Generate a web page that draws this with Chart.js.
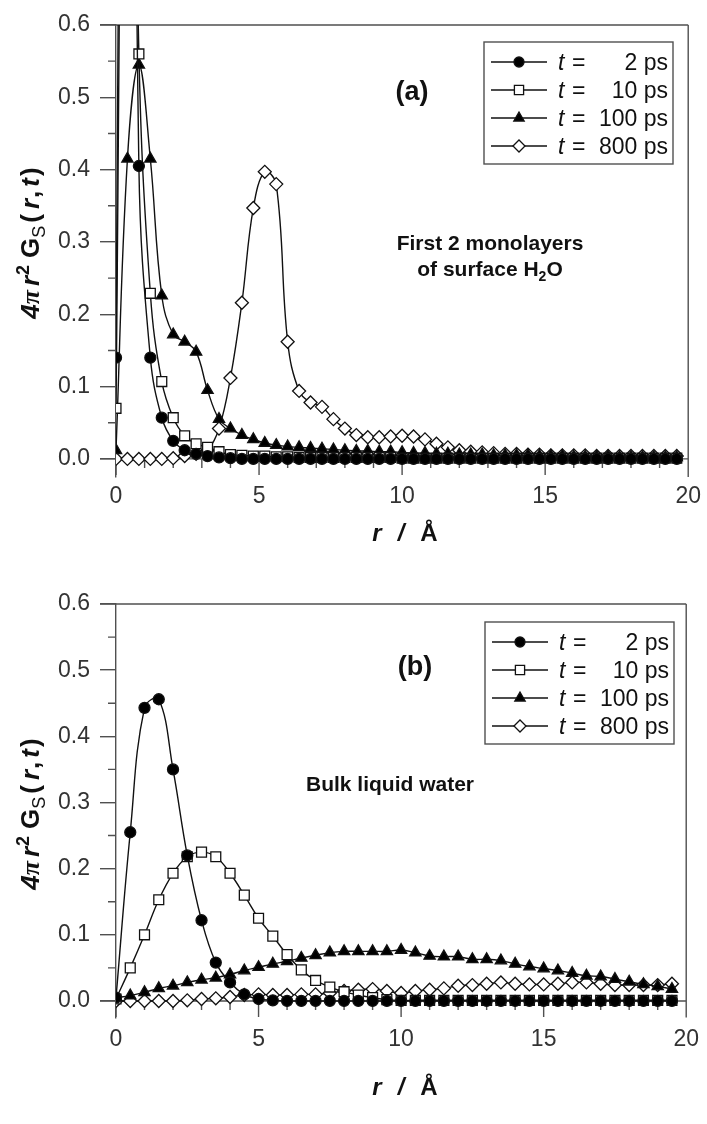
<!DOCTYPE html>
<html><head><meta charset="utf-8">
<script src="https://cdn.jsdelivr.net/npm/chart.js"></script>
<style>
html,body{margin:0;padding:0;background:#fff;}
#wrap{position:relative;width:707px;height:1124px;background:#fff;}
canvas{position:absolute;left:0;}
</style></head><body>
<div id="wrap">
<canvas id="ca" width="707" height="562" style="top:0"></canvas>
<canvas id="cb" width="707" height="562" style="top:562px"></canvas>
</div>
<script>
// ---------- Panel (a): first 2 monolayers of surface water ----------
const rA = [0,0.4,0.8,1.2,1.6,2.0,2.4,2.8,3.2,3.6,4.0,4.4,4.8,5.2,5.6,6.0,6.4,6.8,7.2,7.6,
            8.0,8.4,8.8,9.2,9.6,10.0,10.4,10.8,11.2,11.6,12.0,12.4,12.8,13.2,13.6,14.0,14.4,14.8,15.2,15.6,
            16.0,16.4,16.8,17.2,17.6,18.0,18.4,18.8,19.2,19.6];
const a2ps = [0.14,2.2,0.405,0.14,0.057,0.025,0.012,0.007,0.004,0.002,0.001,0,0,0,0,0,0,0,0,0,
              0,0,0,0,0,0,0,0,0,0,0,0,0,0,0,0,0,0,0,0,0,0,0,0,0,0,0,0,0,0];
const a10ps = [0.07,1.6,0.56,0.229,0.107,0.057,0.032,0.021,0.016,0.010,0.006,0.005,0.004,0.004,0.003,0.003,0.002,0.002,0.002,0.002,
               0.002,0.002,0.002,0.002,0.002,0.001,0.001,0.001,0.001,0.001,0.001,0.001,0.001,0.001,0.001,0.001,0.001,0.001,0.001,0.001,
               0.001,0.001,0.001,0.001,0.001,0.001,0.001,0.001,0.001,0.001];
const a100ps = [0.012,0.415,0.545,0.415,0.226,0.172,0.162,0.148,0.095,0.055,0.042,0.033,0.027,0.022,0.019,0.017,0.016,0.015,0.014,0.013,
                0.012,0.011,0.011,0.010,0.010,0.009,0.008,0.008,0.007,0.007,0.006,0.006,0.006,0.005,0.005,0.005,0.005,0.004,0.004,0.004,
                0.003,0.003,0.003,0.003,0.002,0.002,0.002,0.002,0.002,0.002];
const a800ps = [0,0,0,0,0,0.001,0.004,0.007,0.012,0.042,0.112,0.216,0.347,0.397,0.38,0.162,0.094,0.078,0.072,0.055,
                0.042,0.033,0.030,0.030,0.031,0.032,0.031,0.027,0.021,0.016,0.012,0.010,0.009,0.008,0.007,0.007,0.006,0.006,0.005,0.005,
                0.005,0.005,0.004,0.004,0.004,0.004,0.004,0.004,0.004,0.004];

// ---------- Panel (b): bulk liquid water ----------
const rB = [0,0.5,1.0,1.5,2.0,2.5,3.0,3.5,4.0,4.5,5.0,5.5,6.0,6.5,7.0,7.5,8.0,8.5,9.0,9.5,
            10.0,10.5,11.0,11.5,12.0,12.5,13.0,13.5,14.0,14.5,15.0,15.5,16.0,16.5,17.0,17.5,18.0,18.5,19.0,19.5];
const b2ps = [0.005,0.255,0.443,0.456,0.35,0.22,0.122,0.058,0.028,0.01,0.003,0.001,0,0,0,0,0,0,0,0,
              0,0,0,0,0,0,0,0,0,0,0,0,0,0,0,0,0,0,0,0];
const b10ps = [0.003,0.05,0.1,0.153,0.193,0.218,0.225,0.218,0.193,0.16,0.125,0.098,0.07,0.047,0.031,0.021,0.014,0.009,0.005,0.002,
               0.001,0.001,0.001,0.001,0.001,0.001,0.001,0.001,0.001,0.001,0.001,0.001,0.001,0.001,0.001,0.001,0.001,0.001,0.001,0.001];
const b100ps = [0.005,0.008,0.013,0.019,0.023,0.028,0.032,0.035,0.040,0.046,0.051,0.056,0.060,0.065,0.069,0.073,0.075,0.075,0.075,0.075,
                0.077,0.073,0.068,0.067,0.067,0.063,0.063,0.061,0.056,0.052,0.049,0.046,0.042,0.038,0.037,0.033,0.029,0.025,0.022,0.018];
const b800ps = [0,0,0,0,0,0.001,0.003,0.004,0.006,0.009,0.010,0.009,0.009,0.010,0.010,0.012,0.015,0.017,0.018,0.015,
                0.012,0.015,0.017,0.019,0.023,0.024,0.026,0.028,0.026,0.025,0.025,0.026,0.028,0.028,0.026,0.024,0.024,0.024,0.024,0.026];

const seriesTimes = ['2 ps','10 ps','100 ps','800 ps'];
const xTickValues = [0,5,10,15,20];
const xMinorValues = [1,2,3,4,6,7,8,9,11,12,13,14,16,17,18,19];
const yTickValues = [0,0.1,0.2,0.3,0.4,0.5,0.6];
const yMinorValues = [0.05,0.15,0.25,0.35,0.45,0.55];

// ---------- styling ----------
const FONT = '"Liberation Sans", Arial, Helvetica, sans-serif';
const SERIF = '"Liberation Serif", "Times New Roman", serif';
const AX = '#505050';
const INK = '#111';
const markerStyles = [
  {pointStyle:'circle',   radius:5.5, bg:'#000'},
  {pointStyle:'rect',     radius:7,   bg:'#fff'},
  {pointStyle:'triangle', radius:6.5, bg:'#000'},
  {pointStyle:'rectRot',  radius:6.5, bg:'#fff'}
];

function makeDatasets(xs, lists) {
  return lists.map((vals, i) => ({
    label: seriesTimes[i],
    data: xs.map((r, k) => ({x: r, y: vals[k]})),
    borderColor: INK,
    borderWidth: 1.4,
    backgroundColor: markerStyles[i].bg,
    pointStyle: markerStyles[i].pointStyle,
    pointRadius: markerStyles[i].radius,
    pointBorderColor: INK,
    pointBorderWidth: 1.3,
    pointBackgroundColor: markerStyles[i].bg,
    tension: 0.4,
    fill: false
  }));
}

function drawRuns(ctx, runs, x, y, align) {
  let total = 0;
  runs.forEach(r => { ctx.font = r.font; r.w = ctx.measureText(r.t).width + (r.gap || 0); total += r.w; });
  let cx = align === 'center' ? x - total / 2 : (align === 'right' ? x - total : x);
  runs.forEach(r => { ctx.font = r.font; ctx.fillText(r.t, cx, y + (r.dy || 0)); cx += r.w; });
}

const panelPlugin = {
  id: 'panel',
  beforeDatasetsDraw(chart) {
    const {ctx, chartArea: a, scales: {x, y}} = chart;
    const y0 = y.getPixelForValue(0);
    ctx.save();
    ctx.strokeStyle = AX; ctx.lineWidth = 1.4;
    ctx.beginPath();
    ctx.moveTo(a.left - 16, a.top); ctx.lineTo(a.right, a.top);
    ctx.moveTo(a.right, a.top); ctx.lineTo(a.right, a.bottom);
    ctx.moveTo(a.left - 16, y0); ctx.lineTo(a.right, y0);
    xTickValues.forEach(v => { const px = x.getPixelForValue(v); ctx.moveTo(px, y0); ctx.lineTo(px, y0 + 16); });
    xMinorValues.forEach(v => { const px = x.getPixelForValue(v); ctx.moveTo(px, y0); ctx.lineTo(px, y0 + 9); });
    yMinorValues.forEach(v => { const py = y.getPixelForValue(v); ctx.moveTo(a.left - 8, py); ctx.lineTo(a.left, py); });
    ctx.stroke();
    ctx.restore();
  },
  afterDraw(chart) {
    const o = chart.options.plugins.panel;
    const ctx = chart.ctx;
    ctx.save();
    ctx.fillStyle = INK;
    ctx.textBaseline = 'alphabetic';
    // y-axis title (rotated)
    ctx.save();
    ctx.translate(o.yTitle[0], o.yTitle[1]);
    ctx.rotate(-Math.PI / 2);
    const fs = 26;
    drawRuns(ctx, [
      {t: '4', font: `italic bold ${fs}px ${FONT}`},
      {t: 'π', font: `italic bold ${fs}px ${SERIF}`, gap: 4},
      {t: 'r', font: `italic bold ${fs}px ${FONT}`, gap: 1},
      {t: '2', font: `bold ${Math.round(fs*0.68)}px ${FONT}`, dy: -10, gap: 7},
      {t: 'G', font: `bold ${fs}px ${FONT}`},
      {t: 'S', font: `${Math.round(fs*0.68)}px ${FONT}`, dy: 6, gap: 3},
      {t: '(', font: `bold ${fs}px ${FONT}`, gap: 5},
      {t: 'r', font: `italic bold ${fs}px ${FONT}`, gap: 1},
      {t: ',', font: `bold ${fs}px ${FONT}`, gap: 4},
      {t: 't', font: `italic bold ${fs}px ${FONT}`, gap: 2},
      {t: ')', font: `bold ${fs}px ${FONT}`}
    ], 0, 9, 'center');
    ctx.restore();
    // x-axis title
    drawRuns(ctx, [
      {t: 'r', font: `italic bold 24px ${FONT}`, gap: 16},
      {t: '/', font: `italic bold 24px ${FONT}`, gap: 16},
      {t: 'Å', font: `bold 24px ${FONT}`}
    ], o.xTitle[0], o.xTitle[1] + 9, 'center');
    // panel tag
    ctx.font = `bold 27px ${FONT}`;
    ctx.textAlign = 'center';
    ctx.fillText(o.tag, o.tagPos[0], o.tagPos[1] + 10);
    ctx.textAlign = 'left';
    // annotation
    o.note.forEach(line => drawRuns(ctx, line.runs, line.x, line.y, 'center'));
    // legend
    const L = o.legend;
    ctx.strokeStyle = AX; ctx.lineWidth = 1.4;
    ctx.strokeRect(L.left, L.top, L.right - L.left, L.bottom - L.top);
    chart.data.datasets.forEach((ds, i) => {
      const ry = L.firstRow + i * L.step;
      ctx.strokeStyle = INK; ctx.lineWidth = 1.4;
      ctx.beginPath(); ctx.moveTo(L.left + 7, ry); ctx.lineTo(L.left + 63, ry); ctx.stroke();
      ctx.fillStyle = ds.pointBackgroundColor; ctx.strokeStyle = INK; ctx.lineWidth = 1.3;
      Chart.helpers.drawPoint(ctx, {pointStyle: ds.pointStyle, radius: ds.pointRadius - 0.5, rotation: 0, borderWidth: 1.3}, L.left + 35, ry);
      ctx.fillStyle = INK;
      ctx.font = `italic 23px ${FONT}`;
      ctx.fillText('t', L.left + 74, ry + 8);
      ctx.font = `23px ${FONT}`;
      ctx.fillText('=', L.left + 88, ry + 8);
      ctx.textAlign = 'right';
      ctx.fillText(ds.label, L.right - 5, ry + 8);
      ctx.textAlign = 'left';
    });
    ctx.restore();
  }
};

function buildPanel(id, xs, lists, p) {
  return new Chart(document.getElementById(id), {
    type: 'line',
    data: {datasets: makeDatasets(xs, lists)},
    options: {
      responsive: false, animation: false, devicePixelRatio: 1,
      layout: {padding: {top: p.top, right: 707 - p.right, left: 0, bottom: 0}},
      scales: {
        x: {
          type: 'linear', min: 0, max: 20,
          afterFit: s => { s.height = 562 - p.bottom; },
          afterBuildTicks: s => { s.ticks = xTickValues.map(v => ({value: v})); },
          grid: {display: false, drawTicks: false},
          border: {display: false},
          ticks: {font: {family: FONT, size: 23}, color: '#333', padding: p.xPad, maxRotation: 0, autoSkip: false,
                  callback: v => String(v)}
        },
        y: {
          type: 'linear', min: -0.025, max: 0.6,
          afterFit: s => { s.width = p.left; },
          afterBuildTicks: s => { s.ticks = yTickValues.map(v => ({value: v})); },
          grid: {drawOnChartArea: false, drawTicks: true, tickLength: 16, color: AX, lineWidth: 1.4},
          border: {display: true, color: AX, width: 1.4},
          ticks: {font: {family: FONT, size: 23}, color: '#333', padding: 10, callback: v => Number(v).toFixed(1)}
        }
      },
      plugins: {legend: {display: false}, tooltip: {enabled: false}, panel: p}
    },
    plugins: [panelPlugin]
  });
}

const boldNote = s => `bold ${s}px ${FONT}`;

buildPanel('ca', rA, [a2ps, a10ps, a100ps, a800ps], {
  top: 25, bottom: 477, left: 116, right: 691, xPad: 6,
  yTitle: [30, 243], xTitle: [405, 532],
  tag: '(a)', tagPos: [412, 90],
  legend: {left: 484, right: 673, top: 42, bottom: 164, firstRow: 62, step: 28},
  note: [
    {x: 490, y: 250, runs: [{t: 'First 2 monolayers', font: boldNote(21)}]},
    {x: 490, y: 276, runs: [{t: 'of surface H', font: boldNote(21)}, {t: '2', font: boldNote(14), dy: 5}, {t: 'O', font: boldNote(21)}]}
  ]
});

buildPanel('cb', rB, [b2ps, b10ps, b100ps, b800ps], {
  top: 42, bottom: 455.5, left: 116, right: 691, xPad: 8,
  yTitle: [30, 252], xTitle: [405, 524],
  tag: '(b)', tagPos: [415, 103],
  legend: {left: 485, right: 674, top: 60, bottom: 182, firstRow: 80, step: 28},
  note: [
    {x: 390, y: 229, runs: [{t: 'Bulk liquid water', font: boldNote(21)}]}
  ]
});
</script>
</body></html>
